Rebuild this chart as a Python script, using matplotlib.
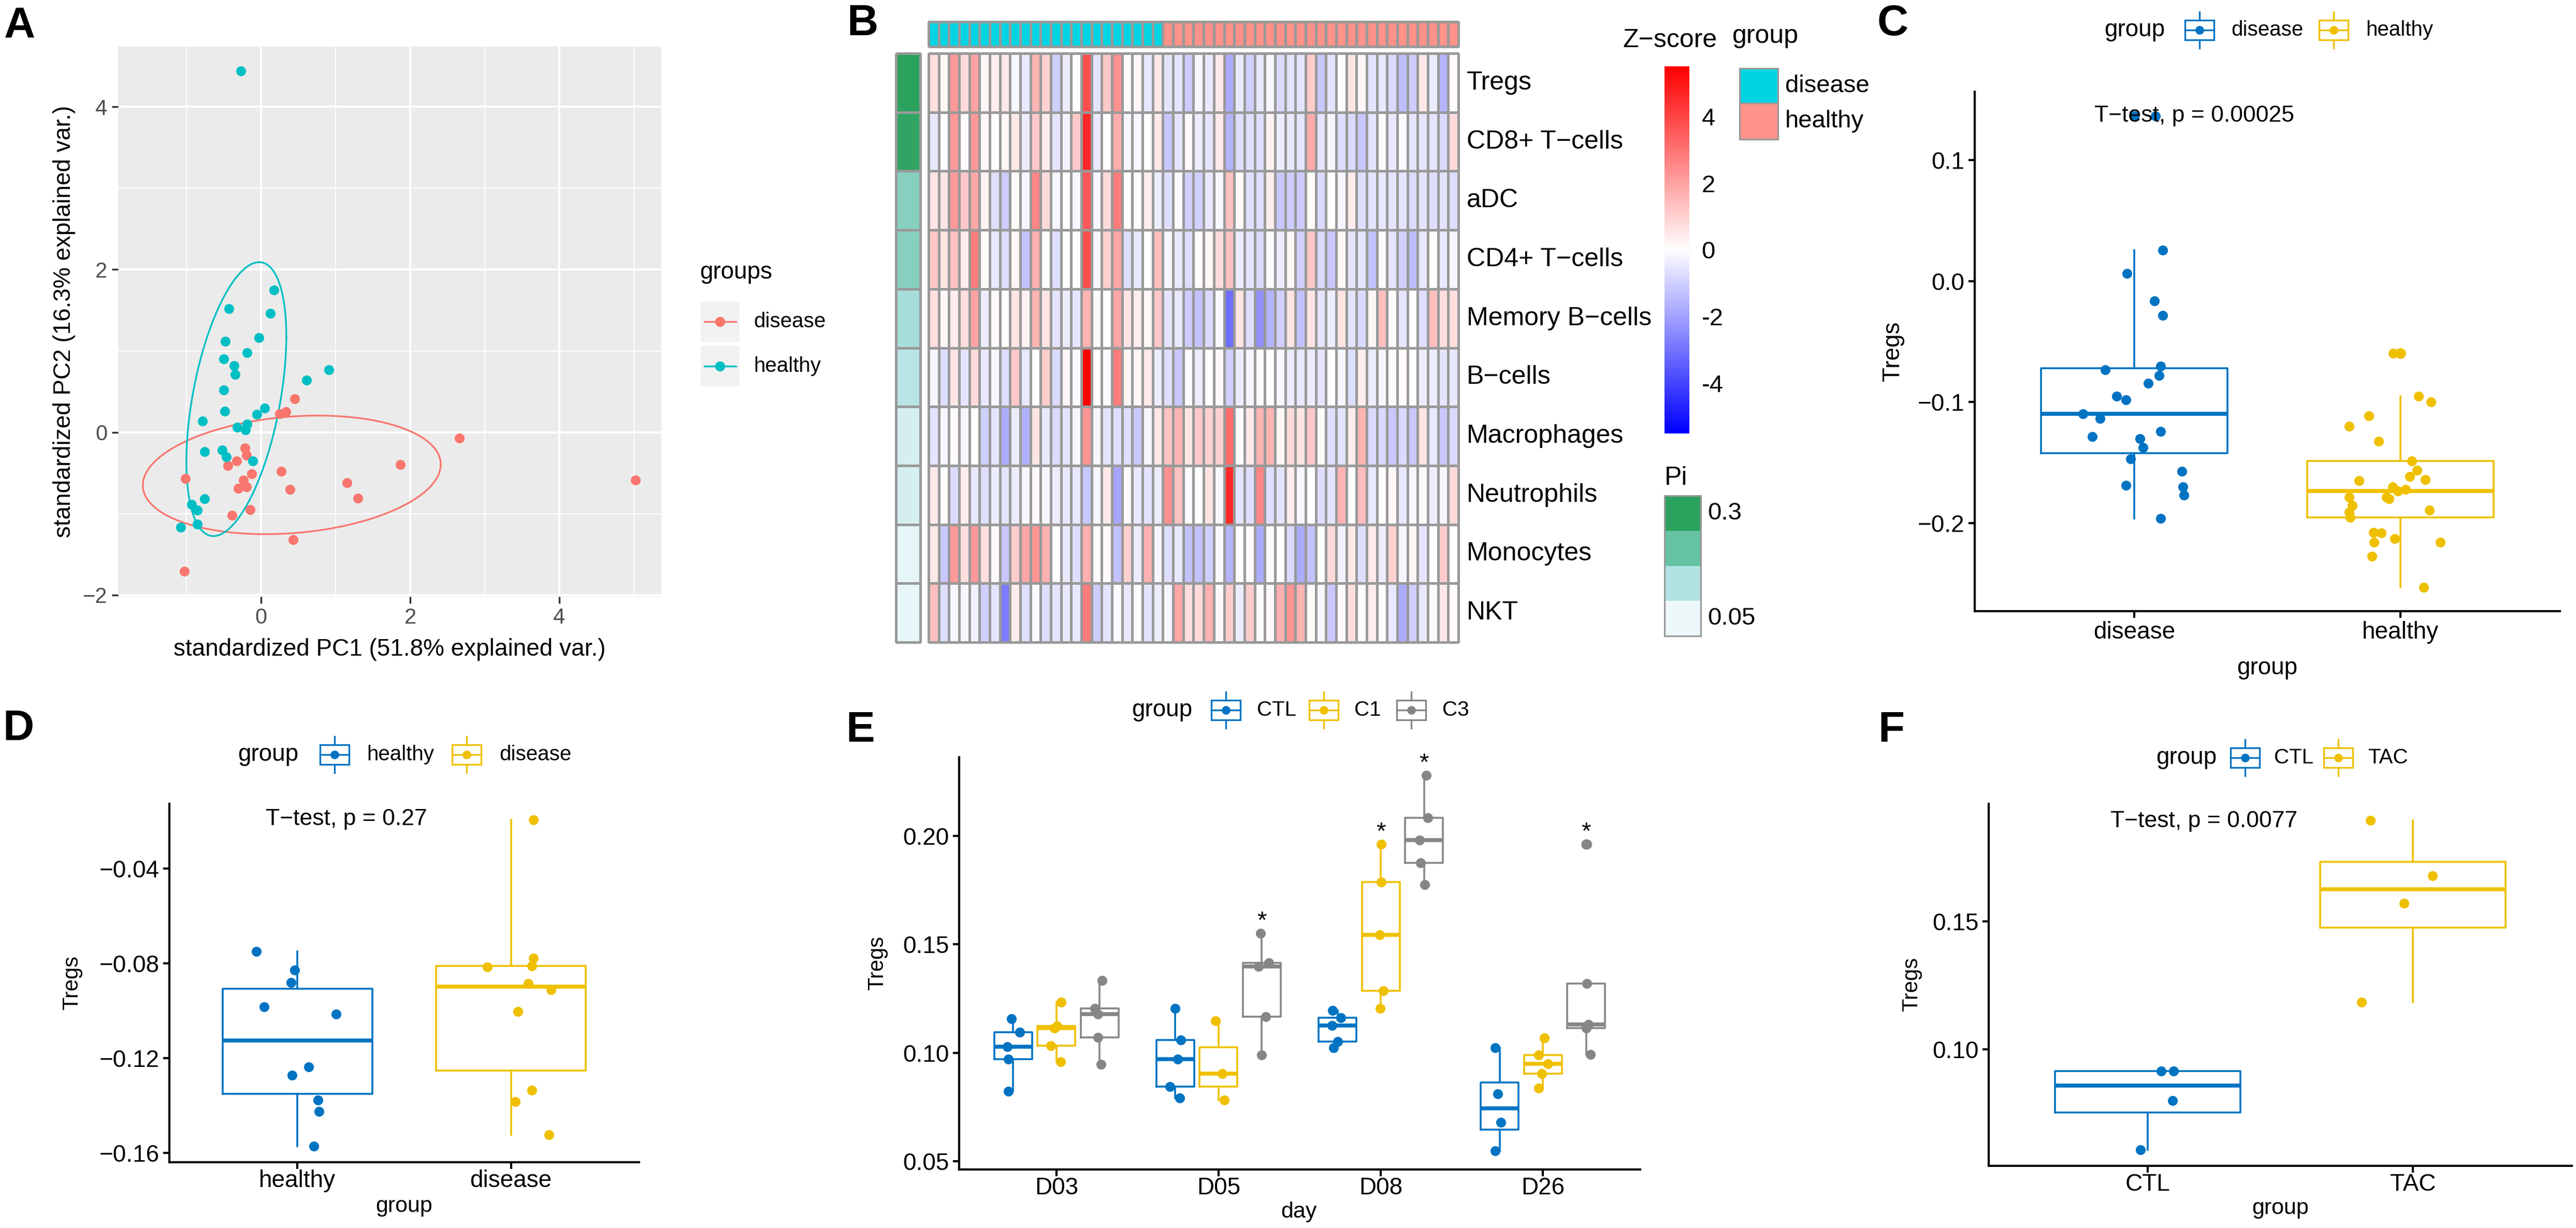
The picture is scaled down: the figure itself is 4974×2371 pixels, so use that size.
import matplotlib
matplotlib.use("Agg")
import matplotlib.pyplot as plt
import numpy as np
from matplotlib.colors import LinearSegmentedColormap, ListedColormap
from matplotlib.patches import Rectangle
from matplotlib.lines import Line2D

plt.rcParams['font.family'] = ['Liberation Sans', 'DejaVu Sans']

# ---------------- data ----------------
# A: PCA scores
pca_dis_x = [0.45, 0.33, 0.25, 2.66, 5.02, -0.22, -0.20, -0.33, -0.45, 1.87, -1.02, -0.13,
             0.27, -0.24, -0.20, -0.31, 1.15, 0.39, 1.30, -0.15, -0.39, 0.43, -1.03]
pca_dis_y = [0.41, 0.25, 0.23, -0.07, -0.59, -0.19, -0.28, -0.35, -0.41, -0.40, -0.57, -0.51,
             -0.48, -0.59, -0.67, -0.69, -0.62, -0.70, -0.81, -0.95, -1.02, -1.32, -1.71]
pca_hea_x = [-0.27, 0.17, -0.43, 0.12, -0.48, -0.03, -0.19, -0.50, -0.36, -0.35, 0.91, 0.61,
             -0.50, -0.49, 0.05, -0.06, -0.79, -0.32, -0.19, -0.21, -0.76, -0.52, -0.47, -0.11,
             -0.76, -0.93, -0.86, -0.86, -1.08]
pca_hea_y = [4.44, 1.75, 1.52, 1.46, 1.12, 1.16, 0.98, 0.90, 0.82, 0.71, 0.77, 0.64,
             0.52, 0.26, 0.30, 0.22, 0.14, 0.06, 0.10, 0.03, -0.24, -0.22, -0.30, -0.35,
             -0.82, -0.89, -0.96, -1.13, -1.17]

# B: z-score heatmap (23 disease + 29 healthy samples)
cell_types = ["Tregs", "CD8+ T\u2212cells", "aDC", "CD4+ T\u2212cells", "Memory B\u2212cells",
              "B\u2212cells", "Macrophages", "Neutrophils", "Monocytes", "NKT"]
pi_values = [0.30, 0.295, 0.18, 0.18, 0.145, 0.125, 0.085, 0.085, 0.06, 0.058]
n_disease = 23
n_healthy = 29
z_tregs = [0.7, 0.2, 2.2, 0.8, 2.0, 0.2, 0.4, 0.5, -0.2, -0.5, 1.6, 1.0, -1.0, -0.4, 0.0, 3.8, -0.6, 1.2, 2.4, 0.1,
           0.2, -0.5, 0.5, -0.6, -0.6, -1.1, -0.2, -0.5, 0.5, -1.8, -0.5, -1.0, -0.5, -0.2, -0.8,
           -0.6, -0.6, 1.1, -1.2, -0.6, 0.0, 0.6, 0.2, -0.6, -0.5, -0.8, -1.4, -1.1, 0.5, -0.4, -1.6, 0.1]
z_cd8 = [-0.5, 0.0, 2.2, 0.1, 2.2, 0.2, 0.0, 0.2, 0.5, -0.4, 1.2, 0.4, -0.6, -0.3, 1.2, 4.6, -0.5, 0.0, 1.8, -0.2,
         -0.2, 0.0, 0.5, -1.2, -0.6, 0.1, -0.4, -0.6, 0.5, -1.6, -0.7, -0.7, -0.7, 0.3, -0.4,
         -0.5, -0.6, 1.8, -0.6, -0.2, -0.7, -0.8, -1.2, -0.6, -0.1, -0.5, -0.1, -0.6, -0.6, -0.6, -0.8, 0.8]
z_adc = [0.6, 0.6, 2.2, 1.2, 1.9, 0.3, -0.7, -1.1, 0.1, -0.2, 2.6, 0.8, -0.2, 0.0, -0.2, 3.6, -0.2, 0.8, 2.8, 0.0,
         0.1, 0.4, -0.4, -0.7, -0.1, -1.0, -1.0, -0.5, -0.2, 1.3, 0.1, -0.7, -0.7, 0.4, -1.2,
         -1.1, -1.1, 0.1, -0.8, 0.0, -0.2, 0.4, -0.7, -0.6, -0.5, -0.6, -0.6, -0.8, -0.6, -0.7, -0.6, -0.7]
z_cd4 = [1.2, 0.6, 1.3, 0.4, 2.8, 0.1, -0.5, -0.7, 0.2, -1.3, 1.7, 0.0, -0.7, 0.0, 0.0, 3.8, -0.2, 1.0, 1.9, -0.7,
         -0.5, 0.0, 1.4, -0.2, -0.5, -0.7, 0.1, 0.2, 0.8, 1.3, -0.4, -0.6, -0.8, -0.1, -0.4,
         0.2, -1.0, 1.2, -0.8, -1.2, 0.2, -0.6, -0.6, -1.3, -0.1, -0.6, -1.0, -1.4, -0.5, 0.0, -0.5, -0.2]
z_memb = [0.7, 0.2, 0.4, 0.7, 2.0, -0.4, 0.1, 0.0, 0.6, 0.3, 1.6, 0.6, -0.6, -0.4, -0.6, 1.6, 0.1, 0.0, 1.9, 0.6,
          0.4, 0.2, 1.2, -0.6, -0.5, -1.1, -1.3, -0.8, -0.1, -3.1, 0.6, -0.7, -2.4, -1.6, -1.0,
          0.6, -1.3, 0.6, -0.6, -0.4, 0.6, -0.6, -0.8, 0.2, 1.4, 0.1, -0.6, 0.0, -0.7, 1.4, 0.7, 0.7]
z_bcells = [-0.2, -0.7, 0.6, -0.6, 0.8, -0.5, -0.2, -0.7, 1.2, -0.5, 0.0, 1.1, -0.8, 0.2, -0.1, 5.5, 0.0, -0.1, 2.8, 0.2,
            0.2, 0.5, -0.4, -0.7, -1.2, -0.1, -0.4, 0.0, 0.1, -1.0, -0.4, -0.2, 0.1, 0.0, -0.2,
            -0.4, -0.5, -0.4, -0.6, 0.0, -0.2, -0.7, 0.4, -0.4, -0.2, 0.1, 0.1, 0.0, -0.4, -0.4, -0.6, -0.5]
z_macro = [-0.6, -0.2, 0.1, -0.2, 0.0, -1.0, -0.6, -1.8, -0.4, -1.7, 0.6, -0.5, -0.8, -0.6, -0.2, 2.3, -0.2, -0.6, -0.7, -0.7,
           -1.2, -0.2, 0.5, 1.3, 1.6, 0.6, 1.2, 1.0, 1.0, 3.2, 0.0, 0.5, 1.6, 1.6, 0.2,
           0.8, 0.6, 1.2, 0.1, -0.7, -0.6, 0.4, 1.6, -0.8, -0.8, -1.2, -0.8, -1.2, 0.6, -0.5, -1.2, -0.8]
z_neutro = [0.5, 0.0, -0.8, 0.4, -0.5, -0.7, -0.4, -0.6, -0.4, -0.2, 0.1, -0.2, -0.4, -0.5, -0.5, -1.2, -0.2, 0.5, -1.9, -0.1,
            -0.5, -0.6, -0.4, 2.4, 1.3, -0.1, 0.0, 0.6, -0.2, 4.6, -0.6, -0.7, 2.6, -0.7, -0.6,
            0.4, -0.2, 0.0, -0.7, -0.6, 1.6, 0.0, 1.4, -0.5, 0.1, 0.2, -0.5, -0.2, 0.1, -0.4, -0.2, 0.8]
z_mono = [0.5, -1.2, 2.2, 0.7, 2.2, 0.7, 0.1, -1.2, 1.1, 1.9, 2.3, 1.7, 0.0, -0.5, -0.7, 1.7, -0.1, 0.1, -1.3, 1.0,
          -0.4, 1.7, -0.2, -0.7, -0.5, -1.3, -1.3, -1.0, -0.1, -1.6, 0.0, 0.1, -1.8, -0.1, 0.0,
          -0.8, -1.8, -1.3, 0.0, 0.8, -0.3, 0.5, -0.7, 0.5, -0.4, 1.0, -0.2, 0.2, -0.6, 0.0, 1.1, 0.0]
z_nkt = [1.4, -0.7, -0.2, -0.2, -0.3, -1.0, -0.6, -2.8, 0.4, -0.7, -0.1, -0.7, -0.6, -0.5, -0.5, 2.8, -1.1, -0.6, -0.1, -0.5,
         -0.1, -0.6, -0.4, -0.2, 1.9, 0.7, 0.8, 1.7, 0.1, 1.1, -0.4, 1.1, -0.1, 0.1, 1.7,
         2.3, 1.6, 0.1, -0.2, -1.2, 0.1, 0.7, -0.1, 0.4, 0.0, -0.5, -1.8, -1.0, -0.5, -0.1, 0.5, 0.1]
z_ticks = [4, 2, 0, -2, -4]
pi_legend = [0.3, 0.217, 0.133, 0.05]

# C
c_groups = ["disease", "healthy"]
c_disease = [0.1365, 0.0256, 0.0065, -0.0164, -0.0283, -0.0703, -0.0734, -0.0778, -0.0846, -0.0952, -0.0980,
             -0.1096, -0.1137, -0.1242, -0.1287, -0.1304, -0.1375, -0.1471, -0.1573, -0.1689, -0.1700, -0.1768, -0.1962]
c_disease_dx = [0.079, 0.106, -0.027, 0.075, 0.106, 0.099, -0.110, 0.093, 0.052, -0.066, -0.031,
                -0.193, -0.128, 0.099, -0.159, 0.021, 0.033, -0.014, 0.178, -0.031, 0.182, 0.186, 0.099]
c_healthy = [-0.0597, -0.0597, -0.0952, -0.0997, -0.1113, -0.1201, -0.1324, -0.1488, -0.1563, -0.1614,
             -0.1638, -0.1648, -0.1700, -0.1720, -0.1734, -0.1785, -0.1785, -0.1799, -0.1853, -0.1894,
             -0.1911, -0.1952, -0.2075, -0.2082, -0.2157, -0.2126, -0.2157, -0.2273, -0.2532]
c_healthy_dx = [-0.027, -0.002, 0.068, 0.116, -0.118, -0.193, -0.081, 0.043, 0.062, 0.035,
                0.093, -0.155, -0.029, 0.02, -0.010, -0.193, -0.052, -0.043, -0.180, 0.110,
                -0.193, -0.188, -0.101, -0.072, -0.099, -0.021, 0.151, -0.106, 0.087]

# D
d_groups = ["healthy", "disease"]
d_healthy = [-0.0750, -0.0828, -0.0880, -0.0984, -0.1013, -0.1236, -0.1272, -0.1376, -0.1425, -0.1572]
d_healthy_dx = [-0.192, -0.014, -0.030, -0.157, 0.182, 0.053, -0.025, 0.095, 0.102, 0.076]
d_disease = [-0.0193, -0.0778, -0.0814, -0.0810, -0.0885, -0.0910, -0.1003, -0.1334, -0.1384, -0.1523]
d_disease_dx = [0.104, 0.104, -0.111, 0.097, 0.081, 0.187, 0.032, 0.099, 0.021, 0.178]

# E
e_days = ["D03", "D05", "D08", "D26"]
e_groups = ["CTL", "C1", "C3"]
e_ctl = [[0.1157, 0.1096, 0.1027, 0.0971, 0.0823],
         [0.1205, 0.1060, 0.0971, 0.0843, 0.0792],
         [0.1196, 0.1162, 0.1125, 0.1051, 0.1024],
         [0.1024, 0.0811, 0.0679, 0.0548]]
e_ctl_dx = [[-0.01, 0.04, -0.035, -0.03, -0.03],
            [0.0, 0.035, 0.015, -0.035, 0.027],
            [-0.03, 0.02, -0.035, 0.0, -0.023],
            [-0.027, -0.012, 0.008, -0.027]]
e_c1 = [[0.1234, 0.1123, 0.1113, 0.1032, 0.0959],
        [0.1148, 0.0904, 0.0783],
        [0.1962, 0.1787, 0.1544, 0.1285, 0.1205],
        [0.1068, 0.0990, 0.0949, 0.0904, 0.0838]]
e_c1_dx = [[0.03, 0.004, -0.012, -0.035, 0.027],
           [-0.02, 0.023, 0.035],
           [0.004, 0.004, -0.008, 0.015, -0.004],
           [0.008, -0.027, 0.03, -0.008, -0.027]]
e_c3 = [[0.1333, 0.1205, 0.1179, 0.1072, 0.0947],
        [0.1551, 0.1415, 0.1398, 0.1166, 0.0990],
        [0.2280, 0.2084, 0.1981, 0.1877, 0.1776],
        [0.1962, 0.1319, 0.1131, 0.1114, 0.0993]]
e_c3_dx = [[0.015, -0.03, -0.012, -0.012, 0.008],
           [-0.008, 0.042, -0.02, 0.023, 0.0],
           [0.015, 0.023, -0.027, -0.02, 0.004],
           [0.004, 0.004, 0.015, 0.0, 0.027]]
e_stars = [("D05", "C3"), ("D08", "C1"), ("D08", "C3"), ("D26", "C3")]

# F
f_groups = ["CTL", "TAC"]
f_ctl = [0.0915, 0.0915, 0.0801, 0.0608]
f_ctl_dx = [0.051, 0.098, 0.094, -0.027]
f_tac = [0.1896, 0.1678, 0.1572, 0.1185]
f_tac_dx = [-0.161, 0.075, -0.033, -0.194]

BLUE, YELLOW, GREY = '#0073C2', '#EFC000', '#868686'

# ---------------- helpers (pixel coordinates, origin top-left) ----------------
W, H = 4974, 2371
fig = plt.figure(figsize=(W / 100, H / 100), dpi=100)


def px_axes(l, t, r, b):
    return fig.add_axes([l / W, 1 - b / H, (r - l) / W, (b - t) / H])


def ftext(x, y, s, **kw):
    return fig.text(x / W, 1 - y / H, s, **kw)


def fline(xs, ys, **kw):
    fig.add_artist(Line2D([v / W for v in xs], [1 - v / H for v in ys],
                          transform=fig.transFigure, **kw))


def frect(x0, y0, x1, y1, **kw):
    fig.add_artist(Rectangle((x0 / W, 1 - y1 / H), (x1 - x0) / W, (y1 - y0) / H,
                             transform=fig.transFigure, **kw))


def box_key(cx, cy, color):
    frect(cx - 28, cy - 19, cx + 28, cy + 19, fill=False, ec=color, lw=2.4)
    fline([cx, cx], [cy - 35, cy - 19], color=color, lw=2.4)
    fline([cx, cx], [cy + 19, cy + 35], color=color, lw=2.4)
    fline([cx - 28, cx + 28], [cy, cy], color=color, lw=2.4)
    fline([cx], [cy], marker='o', ms=11, color=color, lw=0)


def box_legend(title_x, cy, keys_x, labels_x, labels, colors):
    ftext(title_x, cy, "group", fontsize=33, va='center')
    for kx, lx, lab, col in zip(keys_x, labels_x, labels, colors):
        box_key(kx, cy, col)
        ftext(lx, cy, lab, fontsize=29, va='center')


def draw_box(ax, pos, vals, dx, color, width):
    ax.boxplot(vals, positions=[pos], widths=width, showcaps=False, manage_ticks=False,
               boxprops=dict(color=color, lw=2.6),
               whiskerprops=dict(color=color, lw=2.6),
               medianprops=dict(color=color, lw=5.5),
               flierprops=dict(marker='o', mfc=color, mec=color, ms=13.5))
    ax.scatter(pos + np.array(dx), vals, s=190, color=color, lw=0, zorder=3)


def classic(ax, xlim, ylim, yticks, ylabels, xlabels, xpad=3):
    ax.set_xlim(*xlim)
    ax.set_ylim(*ylim)
    for s in ['top', 'right']:
        ax.spines[s].set_visible(False)
    for s in ['left', 'bottom']:
        ax.spines[s].set_linewidth(3)
    ax.set_yticks(yticks)
    ax.set_yticklabels(ylabels)
    ax.set_xticks(range(1, len(xlabels) + 1))
    ax.set_xticklabels(xlabels)
    ax.tick_params(width=3, length=9, labelsize=33)
    ax.tick_params(axis='y', pad=5)
    ax.tick_params(axis='x', pad=xpad)


def data_ellipse(x, y, prob=0.68):
    theta = np.linspace(0, 2 * np.pi, 200)
    circle = np.column_stack([np.cos(theta), np.sin(theta)])
    cov = np.cov(x, y)
    L = np.linalg.cholesky(cov)
    ed = np.sqrt(-2 * np.log(1 - prob))
    pts = circle @ L.T * ed + np.array([np.mean(x), np.mean(y)])
    return pts[:, 0], pts[:, 1]


# ---------------- panel letters ----------------
for lab, x, y in [("A", 8, 72), ("B", 1635, 68), ("C", 3625, 68),
                  ("D", 5, 1429), ("E", 1633, 1432), ("F", 3626, 1432)]:
    ftext(x, y, lab, fontsize=60, fontweight='bold', va='baseline')

# ---------------- A ----------------
RED, CYAN = '#F8766D', '#00BFC4'
axA = px_axes(228, 90, 1277, 1152)
axA.set_facecolor('#EBEBEB')
axA.set_xlim(-1.92, 5.37)
axA.set_ylim(-2.02, 4.74)
axA.set_xticks([0, 2, 4])
axA.set_yticks([-2, 0, 2, 4])
axA.set_xticks([-1, 1, 3, 5], minor=True)
axA.set_yticks([-1, 1, 3], minor=True)
axA.grid(which='major', color='white', lw=2.8)
axA.grid(which='minor', color='white', lw=1.4)
axA.set_axisbelow(True)
for s in axA.spines.values():
    s.set_visible(False)
axA.tick_params(which='major', length=9, width=2.5, color='#333333', labelsize=30,
                labelcolor='#4D4D4D', pad=6)
axA.tick_params(which='minor', length=0)
ex, ey = data_ellipse(pca_dis_x, pca_dis_y)
axA.plot(ex, ey, color=RED, lw=2.4)
ex, ey = data_ellipse(pca_hea_x, pca_hea_y)
axA.plot(ex, ey, color=CYAN, lw=2.4)
axA.scatter(pca_dis_x, pca_dis_y, s=190, color=RED, lw=0, zorder=3)
axA.scatter(pca_hea_x, pca_hea_y, s=190, color=CYAN, lw=0, zorder=3)
ftext(752, 1254, "standardized PC1 (51.8% explained var.)", fontsize=33, ha='center', va='center')
ftext(124, 621, "standardized PC2 (16.3% explained var.)", fontsize=33, ha='center', va='center',
      rotation=90)
ftext(1351, 526, "groups", fontsize=33, va='center')
for cy, lab, col in [(621, "disease", RED), (707, "healthy", CYAN)]:
    frect(1353, cy - 39, 1428, cy + 39, color='#F2F2F2', lw=0)
    fline([1360, 1421], [cy, cy], color=col, lw=2.4)
    fline([1390], [cy], marker='o', ms=13, color=col, lw=0)
    ftext(1455, cy, lab, fontsize=29, va='center')

# ---------------- B ----------------
zcmap = LinearSegmentedColormap.from_list('zs', ['#0000FF', '#FFFFFF', '#FF0000'])
picmap = LinearSegmentedColormap.from_list('pi', ['#EDF8FB', '#B2E2E2', '#66C2A4', '#2CA25F'])
grp_colors = ListedColormap(['#00D4E2', '#FF9289'])
Z = np.array([z_tregs, z_cd8, z_adc, z_cd4, z_memb, z_bcells, z_macro, z_neutro, z_mono, z_nkt])
n_cols = n_disease + n_healthy
row_h = (1240 - 103) / len(cell_types)

axB = px_axes(1793, 103, 2816, 1240)
mesh = axB.pcolormesh(Z, cmap=zcmap, vmin=-5.5, vmax=5.5, edgecolors='#999999', linewidth=2.3)
mesh.set_clip_on(False)
axB.set_xlim(0, n_cols)
axB.set_ylim(len(cell_types), 0)
axB.axis('off')

axTop = px_axes(1793, 42, 2816, 90)
grp_idx = np.array([[0] * n_disease + [1] * n_healthy])
m = axTop.pcolormesh(grp_idx, cmap=grp_colors, vmin=0, vmax=1, edgecolors='#999999', linewidth=2.3)
m.set_clip_on(False)
axTop.set_xlim(0, n_cols)
axTop.axis('off')

axPi = px_axes(1730, 103, 1777, 1240)
m = axPi.pcolormesh(np.array(pi_values)[:, None], cmap=picmap, vmin=0.05, vmax=0.3,
                    edgecolors='#999999', linewidth=2.3)
m.set_clip_on(False)
axPi.set_ylim(len(cell_types), 0)
axPi.axis('off')

for i, name in enumerate(cell_types):
    ftext(2832, 103 + (i + 0.5) * row_h, name, fontsize=36, va='center')

# colour bar
ftext(3133, 78, "Z\u2212score", fontsize=36, va='center')
axCb = px_axes(3214, 128, 3262, 837)
axCb.imshow(np.linspace(5.5, -5.5, 300)[:, None], aspect='auto', cmap=zcmap, vmin=-5.5, vmax=5.5,
            extent=[0, 1, -5.5, 5.5])
axCb.set_xticks([])
axCb.yaxis.tick_right()
axCb.set_yticks(z_ticks)
axCb.set_yticklabels([str(t) for t in z_ticks])
axCb.tick_params(length=0, pad=17, labelsize=34)
for s in axCb.spines.values():
    s.set_visible(False)

# group legend
ftext(3345, 70, "group", fontsize=36, va='center')
for (y0, y1), lab, col in [((132, 199), "disease", '#00D4E2'), ((199, 269), "healthy", '#FF9289')]:
    frect(3359, y0, 3433, y1, fc=col, ec='#999999', lw=2.3)
    ftext(3447, (y0 + y1) / 2, lab, fontsize=34, va='center')

# Pi legend
ftext(3214, 923, "Pi", fontsize=36, va='center')
blk = (1228 - 957) / len(pi_legend)
for i, v in enumerate(pi_legend):
    frect(3214, 957 + i * blk, 3284, 957 + (i + 1) * blk, fc=picmap((v - 0.05) / 0.25), lw=0)
frect(3214, 957, 3284, 1228, fill=False, ec='#999999', lw=2.3)
ftext(3297, 957 + 0.5 * blk, "0.3", fontsize=34, va='center')
ftext(3297, 957 + 3.5 * blk, "0.05", fontsize=34, va='center')

# ---------------- C ----------------
axC = px_axes(3813, 177, 4943, 1180)
draw_box(axC, 1, c_disease, c_disease_dx, BLUE, 0.7)
draw_box(axC, 2, c_healthy, c_healthy_dx, YELLOW, 0.7)
classic(axC, (0.4, 2.6), (-0.2727, 0.1565), [-0.2, -0.1, 0.0, 0.1],
        ["\u22120.2", "\u22120.1", "0.0", "0.1"], c_groups, xpad=5)
axC.text(0.85, 0.1365, "T\u2212test, p = 0.00025", fontsize=32, va='center', ha='left')
ftext(3655, 678, "Tregs", fontsize=33, rotation=90, ha='center', va='center')
ftext(4378, 1290, "group", fontsize=33, ha='center', va='center')
box_legend(4063, 58, [4247, 4506], [4308, 4568], c_groups, [BLUE, YELLOW])

# ---------------- D ----------------
axD = px_axes(327, 1552, 1234, 2244)
draw_box(axD, 1, d_healthy, d_healthy_dx, BLUE, 0.7)
draw_box(axD, 2, d_disease, d_disease_dx, YELLOW, 0.7)
classic(axD, (0.4, 2.6), (-0.1639, -0.0126), [-0.16, -0.12, -0.08, -0.04],
        ["\u22120.16", "\u22120.12", "\u22120.08", "\u22120.04"], d_groups, xpad=1)
axD.text(0.85, -0.0191, "T\u2212test, p = 0.27", fontsize=32, va='center', ha='left')
ftext(139, 1898, "Tregs", fontsize=30, rotation=90, ha='center', va='center')
ftext(780, 2329, "group", fontsize=31, ha='center', va='center')
box_legend(459, 1457, [646, 901], [708, 964], d_groups, [BLUE, YELLOW])

# ---------------- E ----------------
axE = px_axes(1852, 1462, 3167, 2258)
e_sets = [(e_ctl, e_ctl_dx, BLUE), (e_c1, e_c1_dx, YELLOW), (e_c3, e_c3_dx, GREY)]
for g, (vals, dxs, col) in enumerate(e_sets):
    for d in range(len(e_days)):
        draw_box(axE, d + 1 + (g - 1) * 0.8 / 3, vals[d], dxs[d], col, 0.7 / 3)
for day, grp in e_stars:
    d = e_days.index(day)
    g = e_groups.index(grp)
    top = max(e_sets[g][0][d])
    axE.text(d + 1 + (g - 1) * 0.8 / 3, top, "*", fontsize=34, ha='center', va='bottom')
classic(axE, (0.4, 4.6), (0.0462, 0.2363), [0.05, 0.10, 0.15, 0.20],
        ["0.05", "0.10", "0.15", "0.20"], e_days, xpad=1)
ftext(1694, 1860, "Tregs", fontsize=30, rotation=90, ha='center', va='center')
ftext(2508, 2340, "day", fontsize=31, ha='center', va='center')
box_legend(2185, 1371, [2367, 2556, 2725], [2427, 2615, 2785], e_groups, [BLUE, YELLOW, GREY])

# ---------------- F ----------------
axF = px_axes(3840, 1552, 4966, 2251)
draw_box(axF, 1, f_ctl, f_ctl_dx, BLUE, 0.7)
draw_box(axF, 2, f_tac, f_tac_dx, YELLOW, 0.7)
classic(axF, (0.4, 2.6), (0.0545, 0.196), [0.10, 0.15], ["0.10", "0.15"], f_groups, xpad=1)
axF.text(0.86, 0.1893, "T\u2212test, p = 0.0077", fontsize=32, va='center', ha='left')
ftext(3691, 1901, "Tregs", fontsize=30, rotation=90, ha='center', va='center')
ftext(4403, 2333, "group", fontsize=31, ha='center', va='center')
box_legend(4163, 1463, [4335, 4515], [4391, 4572], f_groups, [BLUE, YELLOW])

fig.savefig("out.png", dpi=100, facecolor='white')
